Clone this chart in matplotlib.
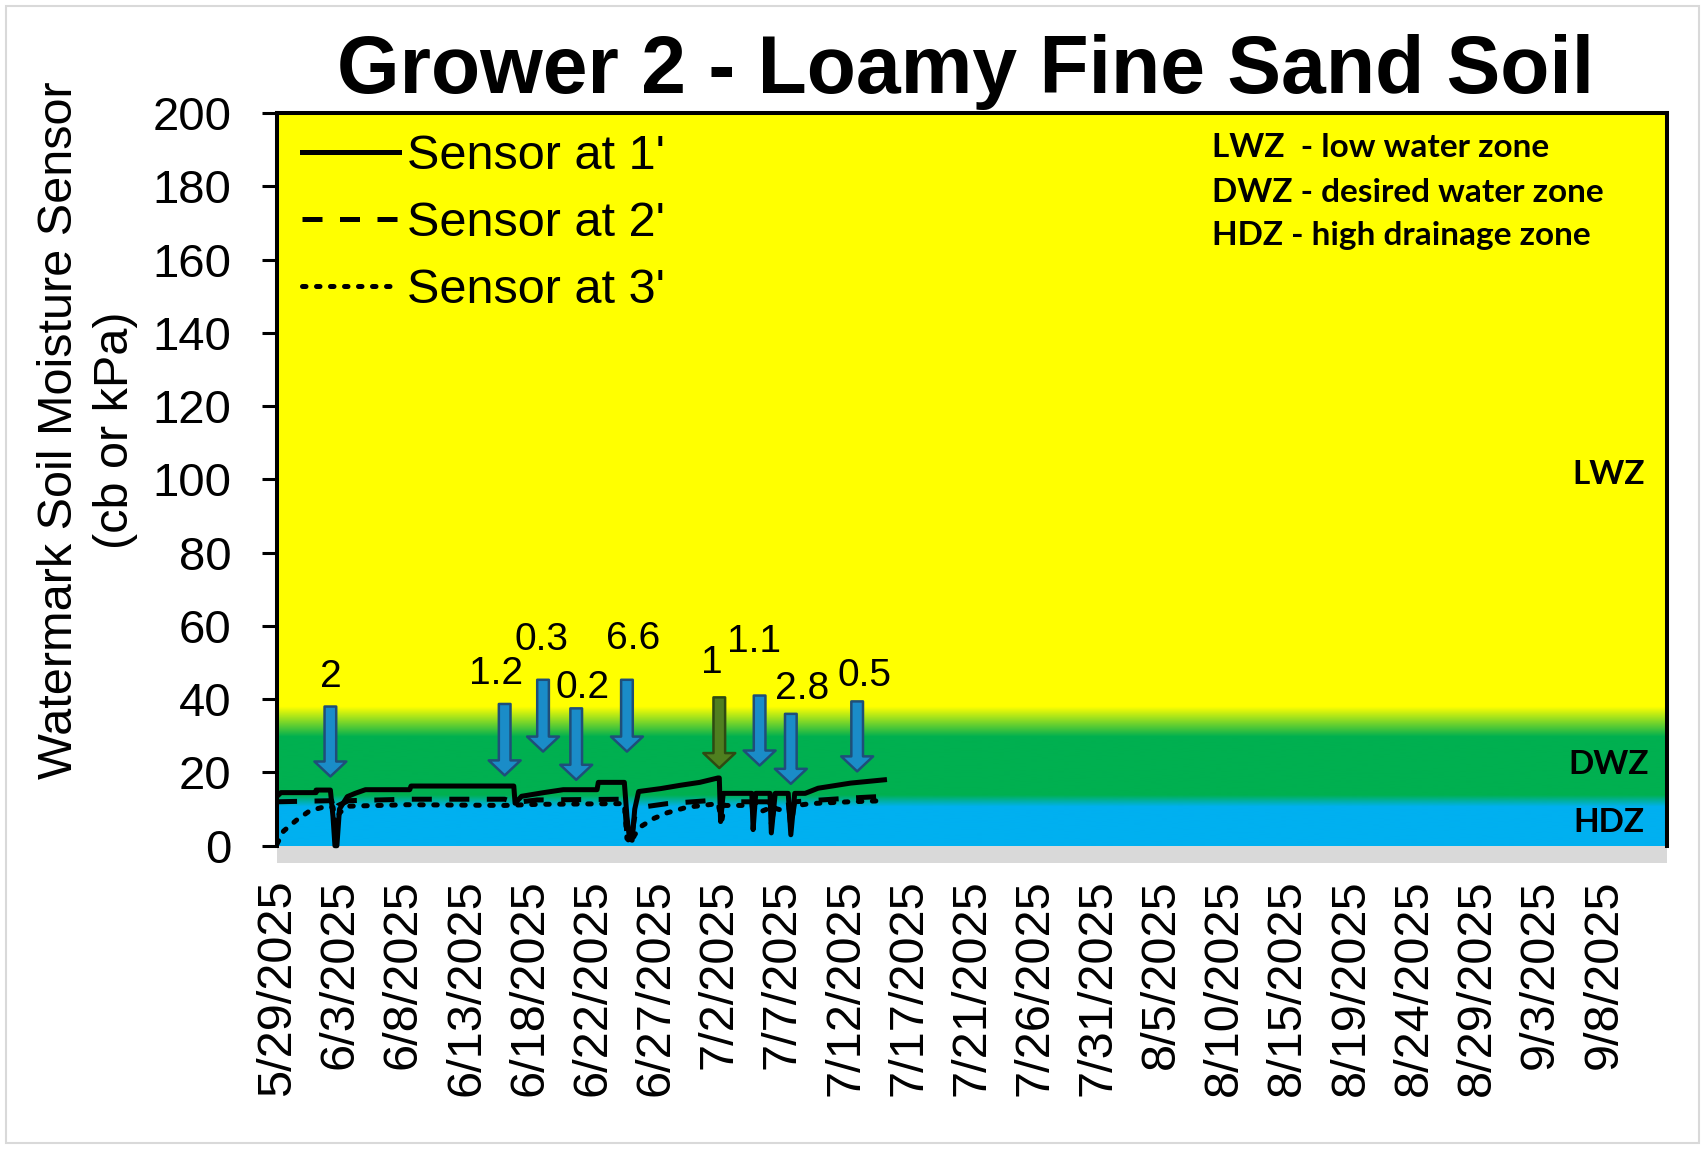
import numpy as np
import matplotlib
matplotlib.use("Agg")
import matplotlib.pyplot as plt
from matplotlib.patches import Rectangle
from matplotlib.transforms import blended_transform_factory

plt.rcParams['font.family'] = ['Liberation Sans', 'DejaVu Sans']

# x axis in days after 5/29/2025; Excel spreads the labels evenly
tick_labels = ['5/29/2025', '6/3/2025', '6/8/2025', '6/13/2025', '6/18/2025', '6/22/2025',
               '6/27/2025', '7/2/2025', '7/7/2025', '7/12/2025', '7/17/2025', '7/21/2025',
               '7/26/2025', '7/31/2025', '8/5/2025', '8/10/2025', '8/15/2025', '8/19/2025',
               '8/24/2025', '8/29/2025', '9/3/2025', '9/8/2025']
label_step = 102 / 21

# sensor readings (cb)
s1_day = [0.0, 0.3, 3.0, 3.0, 4.1, 4.3, 4.45, 4.6, 4.8, 5.4, 6.0, 6.8, 10.2, 10.3, 18.2,
          18.3, 18.8, 20.5, 22.0, 24.6, 24.7, 26.7, 26.9, 27.1, 27.3, 27.5, 27.8, 29.5, 31.0,
          32.5, 33.9, 34.0, 34.1, 34.3, 36.5, 36.6, 36.8, 37.9, 38.0, 38.3, 39.3, 39.5, 39.8,
          40.6, 41.6, 44.1, 46.7]
s1_val = [13.5, 14.5, 14.5, 15.2, 15.2, 8.0, 0.0, 0.0, 10.0, 13.4, 14.3, 15.3, 15.3, 16.3, 16.3,
          11.6, 13.5, 14.5, 15.3, 15.3, 17.3, 17.3, 8.0, 1.8, 1.5, 10.0, 14.8, 15.6, 16.5,
          17.3, 18.5, 18.5, 6.6, 14.3, 14.3, 4.4, 14.3, 14.3, 3.5, 14.3, 14.3, 3.0, 14.3,
          14.3, 15.7, 17.1, 18.0]

s2_day = [0.0, 4.2, 4.4, 4.7, 5.5, 10.0, 17.5, 18.3, 20.0, 26.7, 26.9, 27.2, 27.5, 28.0, 30.0,
          33.9, 34.1, 34.3, 36.5, 36.6, 36.8, 37.9, 38.0, 38.3, 39.3, 39.5, 39.8, 41.0, 44.0, 46.7]
s2_val = [12.0, 12.3, 9.0, 11.0, 12.3, 12.7, 12.7, 11.8, 12.5, 12.7, 3.0, 1.2, 8.0, 10.5, 11.5,
          12.5, 9.0, 12.0, 12.0, 8.0, 12.0, 12.0, 6.0, 12.0, 12.0, 5.0, 12.0, 12.3, 13.0, 13.5]

s3_day = [0.0, 0.5, 1.5, 2.5, 3.5, 4.3, 4.5, 4.8, 5.5, 10.0, 17.5, 20.0, 26.7, 26.9, 27.2,
          27.5, 28.0, 29.0, 30.0, 31.5, 33.9, 34.2, 34.4, 36.5, 37.0, 38.0, 39.0, 40.0, 41.0,
          44.0, 46.7]
s3_val = [0.5, 4.0, 7.0, 9.5, 10.5, 10.5, 6.0, 9.0, 10.8, 11.2, 11.0, 11.3, 11.5, 2.0, 0.8,
          3.0, 5.3, 7.5, 9.0, 10.5, 11.5, 7.0, 11.0, 11.0, 9.0, 10.5, 9.5, 11.0, 11.5,
          12.0, 12.3]

# water events (arrows) and their amounts
evt_day = [4.1, 17.5, 20.45, 23.0, 26.9, 34.0, 37.1, 39.5, 44.6]
evt_top = [38.0, 38.7, 45.3, 37.5, 45.3, 40.5, 41.0, 36.0, 39.4]
evt_tip = [18.9, 19.2, 25.7, 18.0, 25.7, 21.2, 21.9, 16.9, 20.3]
evt_text = ['2', '1.2', '0.3', '0.2', '6.6', '1', '1.1', '2.8', '0.5']
evt_text_day = [4.1, 16.8, 20.3, 23.5, 27.4, 33.4, 36.7, 40.4, 45.2]
evt_text_y = [46.1, 46.9, 56.2, 43.0, 56.4, 50.0, 55.7, 42.7, 46.2]
evt_kind = ['irr', 'irr', 'irr', 'irr', 'irr', 'rain', 'irr', 'irr', 'irr']

# background zones
zone_stops = [0, 10.7, 13.9, 29.8, 38.0, 200]
zone_colors = ['#00B0F0', '#00B0F0', '#00B050', '#00B050', '#FFFF00', '#FFFF00']
zone_names = ['LWZ', 'DWZ', 'HDZ']
zone_name_y = [101.4, 22.1, 6.3]
key_lines = ['LWZ  - low water zone', 'DWZ - desired water zone', 'HDZ - high drainage zone']
key_y = [190.6, 178.3, 166.5]

x_max = 22 * label_step

fig = plt.figure(figsize=(17.06, 11.5), dpi=100)
ax = fig.add_axes([0.1624, 0.2496, 0.8147, 0.6521])

# gradient background
yy = np.linspace(0, 200, 2000)
rgb = np.array([matplotlib.colors.to_rgb(c) for c in zone_colors])
grad = np.stack([np.interp(yy, zone_stops, rgb[:, i]) for i in range(3)], axis=-1)
ax.imshow(grad[:, None, :], extent=(0, x_max, 0, 200), origin='lower', aspect='auto', zorder=0)
ax.axhspan(-4.7, 0, color='#D9D9D9', lw=0, zorder=0)

lw = 3.6
l1, = ax.plot(s1_day, s1_val, color='black', lw=lw, solid_joinstyle='round', zorder=3)
l2, = ax.plot(s2_day, s2_val, color='black', lw=lw, linestyle=(0, (4, 3.5)), zorder=3)
l3, = ax.plot(s3_day, s3_val, color='black', lw=lw, linestyle=(0, (0.7, 2.1)),
              dash_capstyle='round', zorder=3)

for d, top, tip, kind in zip(evt_day, evt_top, evt_tip, evt_kind):
    fc, ec = ('#4F7F1F', '#2E4A12') if kind == 'rain' else ('#1A8CC8', '#1F4E79')
    ax.annotate('', xy=(d, tip), xytext=(d, top),
                arrowprops=dict(arrowstyle='simple,head_length=0.54,head_width=1.15,tail_width=0.42',
                                mutation_scale=20, fc=fc, ec=ec, lw=1.8,
                                shrinkA=0, shrinkB=0), zorder=4)
for d, y, t in zip(evt_text_day, evt_text_y, evt_text):
    ax.text(d, y, t, fontsize=28, ha='center', va='center', zorder=5)

trans = blended_transform_factory(ax.transAxes, ax.transData)
for name, y in zip(zone_names, zone_name_y):
    ax.text(0.958, y, name, transform=trans, fontsize=24, fontweight='bold',
            family=['Lato', 'DejaVu Sans'], ha='center', va='center', zorder=5)
for line, y in zip(key_lines, key_y):
    ax.text(0.673, y, line, transform=trans, fontsize=24, fontweight='bold',
            family=['Lato', 'DejaVu Sans'], ha='left', va='center', zorder=5)

ax.legend([l1, l2, l3], ["Sensor at 1'", "Sensor at 2'", "Sensor at 3'"],
          loc='upper left', bbox_to_anchor=(0.018, 0.972), frameon=False, fontsize=35,
          handlelength=2.0, handletextpad=0.15, labelspacing=0.45, borderpad=0,
          borderaxespad=0)

ax.set_xlim(0, x_max)
ax.set_ylim(-4.7, 200)
ax.set_xticks(np.arange(len(tick_labels)) * label_step)
ax.set_xticklabels(tick_labels, rotation=90, fontsize=35)
ax.tick_params(axis='x', length=0, pad=12)
ax.set_yticks(np.arange(0, 201, 20))
ax.tick_params(axis='y', direction='out', length=10.8, width=2.2, pad=22, labelsize=34)

ax.spines['bottom'].set_visible(False)
for side in ['left', 'right', 'top']:
    ax.spines[side].set_linewidth(2.9)
ax.spines['left'].set_bounds(0, 200)
ax.spines['right'].set_bounds(0, 200)

fig.text(0.0513, 0.626, 'Watermark Soil Moisture Sensor\n(cb or kPa)', rotation=90,
         fontsize=35, ha='center', va='center', multialignment='center', linespacing=1.3)
fig.text(0.566, 0.919, 'Grower 2 - Loamy Fine Sand Soil', fontsize=58, fontweight='bold',
         ha='center', va='baseline')

fig.patches.append(Rectangle((0.0035, 0.006), 0.9924, 0.9887, transform=fig.transFigure,
                             fill=False, ec='#D9D9D9', lw=1.5))

fig.savefig('out.png', dpi=100)
